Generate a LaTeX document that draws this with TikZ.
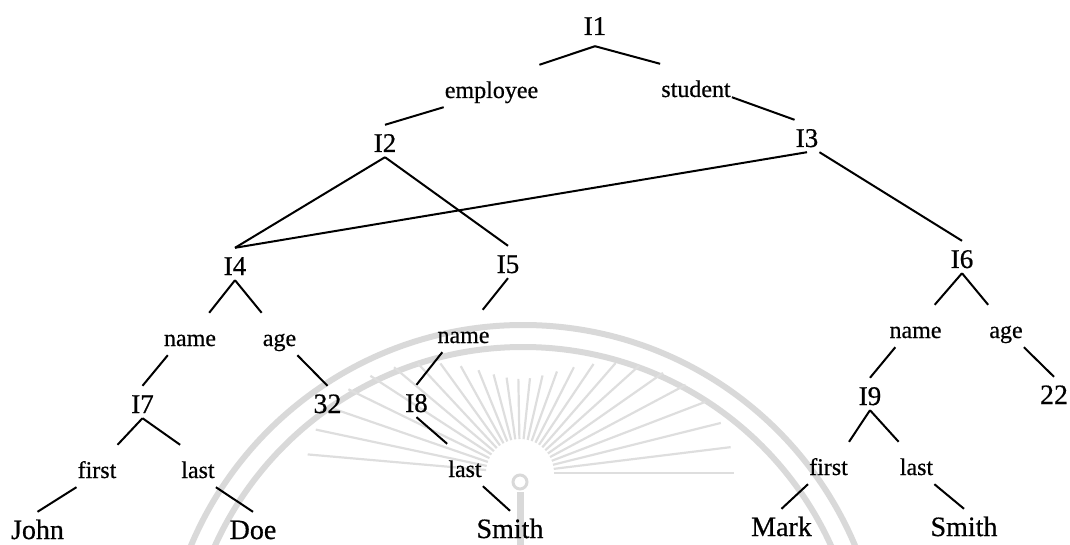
\documentclass[tikz,border=0pt]{standalone}
\usepackage{fontspec}
\setmainfont{Liberation Serif}[FakeBold=0.6]
\begin{document}
\begin{tikzpicture}[x=1pt,y=-1pt,
  inst/.style={font=\fontsize{27}{30}\selectfont, anchor=base, inner xsep=1pt,
               inner ysep=3pt, text height=24pt, text depth=2pt},
  val/.style={inst, font=\fontsize{28}{32}\selectfont, text depth=0pt},
  attr/.style={font=\fontsize{24}{28}\selectfont, anchor=base, inner xsep=1pt,
               inner ysep=4pt, text height=29pt, text depth=5pt},
  link/.style={line width=2pt},
  seal/.style={draw=black!15, line width=6pt},
  ray/.style={draw=black!13, line width=2.2pt}]
\useasboundingbox (0,0) rectangle (1070,545);

% faint seal in the background
\begin{scope}
  \clip (0,0) rectangle (1070,545);
  \draw[seal] (523,685) circle[radius=360pt];
  \draw[seal] (523,685) circle[radius=338pt];
  \foreach \a in {0,7,...,180}
    \draw[ray] (520,473) ++(\a:34pt) -- ++(\a:{60pt+120pt*cos(\a)*cos(\a)});
  \draw[seal, line width=3pt] (520,482) circle[radius=7pt];
  \draw[seal, line width=7pt] (520,492) -- (520,545);
\end{scope}

% tree nodes
\node[inst] (I1) at (595,35) [text depth=8pt] {I1};
\node[attr] (employee) at (491.5,98) {employee};
\node[attr] (student) at (696,97) {student};
\node[inst] (I2) at (385,152) {I2};
\node[inst] (I3) at (807,147) {I3};
\node[inst] (I4) at (235,275) {I4};
\node[inst] (I5) at (508,273) {I5};
\node[inst] (I6) at (962,268) {I6};
\node[attr] (name4) at (190,346) {name};
\node[attr] (age4) at (279.5,346) {age};
\node[attr] (name5) at (463.5,343) {name};
\node[attr] (name6) at (915.5,338) {name};
\node[attr] (age6) at (1006,338) {age};
\node[inst] (I7) at (142.5,413) {I7};
\node[val] (v32) at (327.5,413) {32};
\node[inst] (I8) at (416.5,412) {I8};
\node[inst] (I9) at (870,405) {I9};
\node[val] (v22) at (1054,404) {22};
\node[attr] (first7) at (97,478) {first};
\node[attr] (last7) at (198,478) {last};
\node[attr] (last8) at (465,477) {last};
\node[attr] (first9) at (828.5,475) {first};
\node[attr] (last9) at (916.5,475) {last};
\node[val] (john) at (37.5,539) {John};
\node[val] (doe) at (253,539) {Doe};
\node[val] (smith8) at (510,538) {Smith};
\node[val] (mark) at (781.5,536) {Mark};
\node[val] (smith9) at (964,536) {Smith};

% edges
\draw[link] (I1.south) -- (employee.north east);
\draw[link] (I1.south) -- (student.north west);
\draw[link] (employee.south west) -- (I2.north);
\draw[link] ([yshift=9pt]student.south east) -- (I3.north west);
\draw[link] (I2.south) -- (I4.north);
\draw[link] (I2.south) -- (I5.north);
\draw[link] (I3.south) -- (I4.north);
\draw[link] (I3.south east) -- (I6.north);
\draw[link] (I4.south) -- ([xshift=-8pt]name4.north east);
\draw[link] (I4.south) -- (age4.north west);
\draw[link] ([xshift=5pt]name4.south west) -- (I7.north);
\draw[link] (age4.south east) -- (v32.north);
\draw[link] (I5.south) -- ([xshift=-8pt]name5.north east);
\draw[link] ([xshift=6pt]name5.south west) -- (I8.north);
\draw[link] (I6.south) -- ([xshift=-8pt]name6.north east);
\draw[link] (I6.south) -- (age6.north west);
\draw[link] ([xshift=7pt]name6.south west) -- (I9.north);
\draw[link] (age6.south east) -- (v22.north);
\draw[link] (I7.south) -- (first7.north east);
\draw[link] (I7.south) -- (last7.north west);
\draw[link] (I8.south) -- (last8.north west);
\draw[link] (I9.south) -- (first9.north east);
\draw[link] (I9.south) -- (last9.north west);
\draw[link] (first7.south west) -- (john.north);
\draw[link] (last7.south east) -- (doe.north);
\draw[link] (last8.south east) -- (smith8.north);
\draw[link] (first9.south west) -- (mark.north);
\draw[link] (last9.south east) -- (smith9.north);
\end{tikzpicture}
\end{document}
